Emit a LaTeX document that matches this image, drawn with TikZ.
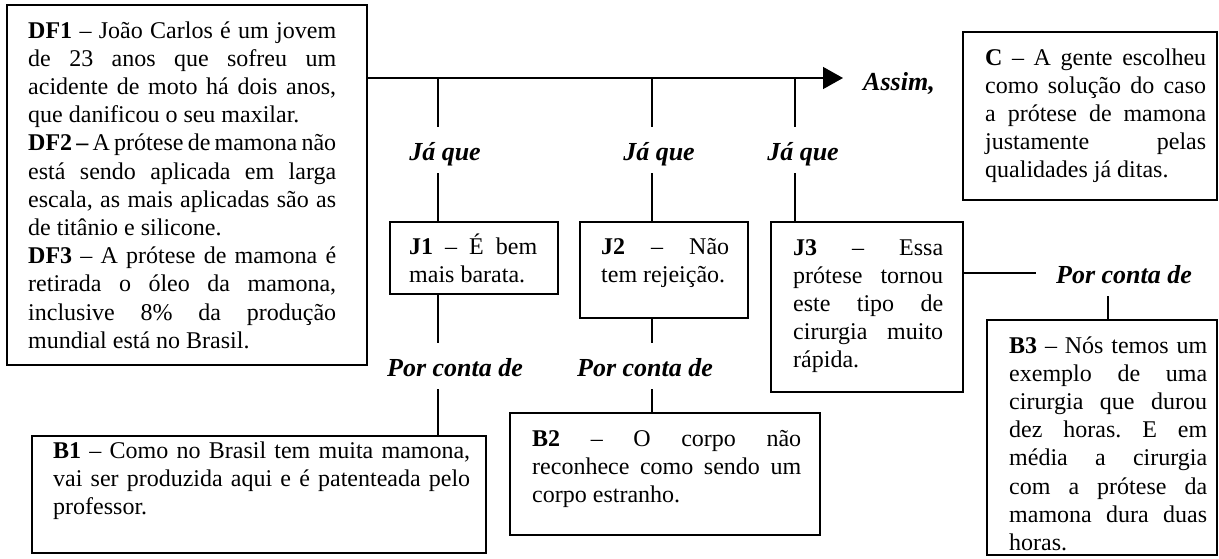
\documentclass[tikz,border=0pt]{standalone}
\usepackage{fontspec}
\setmainfont{Liberation Serif}
\usetikzlibrary{arrows.meta,fit}
\hbadness=10000
\hfuzz=20pt
\frenchspacing
\begin{document}
\begin{tikzpicture}[x=1pt,y=-1pt,
  box/.style={draw, line width=1.5pt, inner sep=0pt},
  txt/.style={anchor=base west, inner sep=0pt, font=\fontsize{24}{28.2}\selectfont},
  lab/.style={anchor=base, inner sep=0pt, text height=33pt, text depth=13pt, font=\fontsize{26}{30}\selectfont\bfseries\itshape},
  conn/.style={line width=1.5pt}]
\useasboundingbox[fill=white] (0,0) rectangle (1219,558);

% boxes
\node[box, fit={(7,5)(367,365)}] (df1) {};
\node[box, fit={(390,222)(558,294)}] (j1) {};
\node[box, fit={(580,222)(748,318)}] (j2) {};
\node[box, fit={(771,222)(963,392)}] (j3) {};
\node[box, fit={(963,32)(1217,200)}] (c) {};
\node[box, fit={(987,320)(1217,555)}] (b3) {};
\node[box, fit={(32,436)(486,553)}] (b1) {};
\node[box, fit={(510,413)(820,535)}] (b2) {};

% texts
\node[txt] (tdf1) at (28,38) {\parbox[t]{308pt}{\textbf{DF1} – João Carlos é um jovem\linebreak
de 23 anos que sofreu um\linebreak
acidente de moto há dois anos,\linebreak
que danificou o seu maxilar.\\
\textbf{DF2 –} A prótese de mamona não\linebreak
está sendo aplicada em larga\linebreak
escala, as mais aplicadas são as\linebreak
de titânio e silicone.\\
\textbf{DF3} – A prótese de mamona é\linebreak
retirada o óleo da mamona,\linebreak
inclusive 8\% da produção\linebreak
mundial está no Brasil.}};
\node[txt] (tj1) at (409,254) {\parbox[t]{128pt}{\textbf{J1} – É bem\linebreak mais barata.}};
\node[txt] (tj2) at (601,254) {\parbox[t]{128pt}{\textbf{J2} – Não\linebreak tem rejeição.}};
\node[txt] (tj3) at (793,255) {\parbox[t]{150pt}{\textbf{J3} – Essa\linebreak prótese tornou\linebreak este tipo de\linebreak cirurgia muito\linebreak rápida.}};
\node[txt] (tc) at (985,65) {\parbox[t]{221pt}{\textbf{C} – A gente escolheu\linebreak como solução do caso\linebreak a prótese de mamona\linebreak justamente pelas\linebreak qualidades já ditas.}};
\node[txt] (tb3) at (1009,353) {\parbox[t]{198pt}{\textbf{B3} – Nós temos um\linebreak exemplo de uma\linebreak cirurgia que durou\linebreak dez horas. E em\linebreak média a cirurgia\linebreak com a prótese da\linebreak mamona dura duas\linebreak horas.}};
\node[txt] (tb1) at (53,458) {\parbox[t]{417pt}{\textbf{B1} – Como no Brasil tem muita mamona,\linebreak vai ser produzida aqui e é patenteada pelo\linebreak professor.}};
\node[txt] (tb2) at (532,446) {\parbox[t]{269pt}{\textbf{B2} – O corpo não\linebreak reconhece como sendo um\linebreak corpo estranho.}};

% labels
\node[lab] (assim) at (899,90) {Assim,};
\node[lab] (q1) at (445,160) {Já que};
\node[lab] (q2) at (659,160) {Já que};
\node[lab] (q3) at (803,160) {Já que};
\node[lab] (pc1) at (455,376) {Por conta de};
\node[lab] (pc2) at (645,376) {Por conta de};
\node[lab] (pc3) at (1124,283) {Por conta de};

% main arrow
\coordinate (aend) at (843,78);
\coordinate (m1) at (438,78);
\coordinate (m2) at (652,78);
\coordinate (m3) at (795,78);
\draw[conn, -{Triangle[length=20pt,width=22pt]}] (df1.east |- aend) -- (aend);

% connectors
\foreach \m/\q/\j in {m1/q1/j1, m2/q2/j2, m3/q3/j3} {
  \draw[conn] (\m) -- (\m |- \q.north);
  \draw[conn] (\m |- \q.south) -- (\m |- \j.north);
}
\draw[conn] (m1 |- j1.south) -- (m1 |- pc1.north);
\draw[conn] (m1 |- pc1.south) -- (m1 |- b1.north);
\draw[conn] (m2 |- j2.south) -- (m2 |- pc2.north);
\draw[conn] (m2 |- pc2.south) -- (m2 |- b2.north);
\draw[conn] (j3.east |- pc3.west) -- ([xshift=-20pt]pc3.west);
\draw[conn] ([xshift=-16pt]pc3.south) -- ([xshift=-16pt]pc3.south |- b3.north);
\end{tikzpicture}
\end{document}
